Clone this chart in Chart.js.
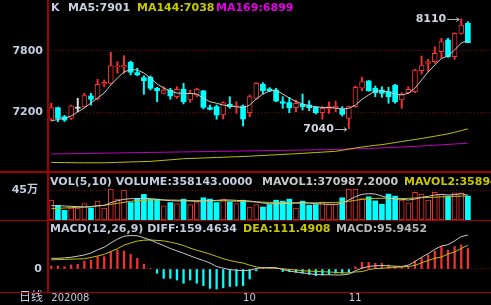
<!DOCTYPE html>
<html><head><meta charset="utf-8">
<script src="https://cdn.jsdelivr.net/npm/chart.js@4/dist/chart.umd.min.js"></script>
<style>
html,body{margin:0;padding:0;background:#000;width:491px;height:305px;overflow:hidden;}
canvas{position:absolute;left:0;display:block;}
.sep{position:absolute;left:0;width:491px;background:#a00000;}
.vsep{position:absolute;left:47px;top:0;width:2px;height:293px;background:#a00000;}
</style></head><body>
<canvas id="ca" width="491" height="171" style="top:0px"></canvas>
<canvas id="cb" width="491" height="47" style="top:173px"></canvas>
<canvas id="cc" width="491" height="83" style="top:222px"></canvas>
<div class="sep" style="top:171px;height:2px"></div>
<div class="sep" style="top:220px;height:1px"></div>
<div class="sep" style="top:292px;height:1px"></div>
<div class="vsep"></div>
<script>
// ---- categories (trading days) ----
const dates = ['20200821','20200824','20200825','20200826','20200827','20200828','20200831',
'20200901','20200902','20200903','20200904','20200907','20200908','20200909','20200910','20200911',
'20200914','20200915','20200916','20200917','20200918','20200921','20200922','20200923','20200924',
'20200925','20200928','20200929','20200930',
'20201009','20201012','20201013','20201014','20201015','20201016','20201019','20201020','20201021',
'20201022','20201023','20201026','20201027','20201028','20201029','20201030',
'20201102','20201103','20201104','20201105','20201106','20201109','20201110','20201111','20201112',
'20201113','20201116','20201117','20201118','20201119','20201120','20201123','20201124','20201125','20201126'];
const blankSlots = ['', '', ''];
// ---- tick labels ----
const xTickDates = ['20200821','20201009','20201102'];
const xTickTexts = ['202008','10','11'];
const priceTicks = [7200, 7800];
const volTicks = [450000];
const volTickTexts = ['45万'];
const macdTicks = [0];
// ---- OHLC ----
const open = [7132,7245,7157,7141,7240,7255,7359,7330,7473,7482,7644,7640,7687,7586,7537,7541,7434,7385,7417,7352,7424,7320,7369,7409,7245,7255,7174,7278,7255,7261,7196,7336,7473,7427,7417,7303,7294,7245,7278,7271,7249,7196,7232,7239,7229,7141,7255,7434,7505,7434,7417,7401,7463,7320,7391,7401,7605,7677,7693,7790,7904,7742,7969,8067];
const high = [7288,7250,7170,7270,7336,7385,7385,7521,7515,7784,7693,7751,7700,7629,7556,7554,7444,7449,7434,7449,7482,7417,7434,7412,7271,7271,7303,7352,7303,7271,7369,7489,7489,7440,7434,7352,7346,7320,7378,7313,7255,7255,7303,7310,7255,7261,7456,7541,7510,7456,7449,7443,7473,7391,7449,7619,7748,7716,7839,7921,7921,7975,8110,8083];
const low = [7115,7108,7110,7130,7206,7249,7271,7320,7449,7476,7580,7580,7563,7556,7375,7417,7303,7378,7327,7336,7281,7297,7352,7232,7222,7132,7135,7239,7190,7067,7157,7327,7378,7400,7303,7239,7196,7206,7222,7216,7183,7132,7190,7206,7164,7040,7249,7410,7405,7352,7346,7288,7288,7239,7385,7391,7573,7596,7677,7726,7735,7716,7960,7878];
const close = [7245,7141,7125,7264,7240,7362,7327,7473,7492,7654,7652,7660,7590,7566,7508,7434,7410,7417,7359,7424,7303,7385,7424,7248,7229,7174,7294,7255,7264,7135,7352,7482,7410,7410,7310,7288,7245,7288,7255,7245,7196,7239,7255,7261,7180,7255,7443,7498,7410,7391,7385,7352,7303,7378,7424,7612,7654,7693,7775,7888,7742,7969,8050,7878];
// ---- moving averages ----
const ma5 = [7118,7130,7142,7164,7203,7242,7291,7339,7388,7466,7534,7593,7617,7612,7583,7534,7476,7437,7407,7388,7383,7383,7378,7336,7303,7288,7271,7261,7255,7242,7271,7330,7378,7407,7417,7378,7339,7305,7281,7264,7255,7247,7247,7242,7232,7239,7271,7327,7369,7407,7410,7398,7378,7369,7385,7434,7515,7593,7661,7724,7748,7807,7875,7901];
const ma144 = [6712,6711,6710,6709,6708,6708,6708,6708,6708,6710,6712,6714,6716,6718,6720,6722,6727,6732,6737,6742,6748,6750,6752,6755,6757,6760,6762,6765,6767,6770,6772,6776,6779,6783,6786,6790,6793,6796,6800,6804,6808,6812,6816,6820,6830,6842,6852,6862,6870,6878,6885,6895,6905,6915,6925,6935,6945,6956,6967,6978,6990,7005,7022,7038];
const ma169 = [6794,6795,6796,6797,6798,6799,6800,6801,6802,6803,6804,6805,6806,6807,6808,6809,6810,6811,6812,6813,6814,6815,6816,6817,6818,6819,6820,6821,6822,6823,6824,6825,6826,6827,6828,6829,6830,6831,6832,6833,6834,6835,6836,6838,6840,6842,6844,6846,6848,6850,6853,6856,6859,6862,6865,6868,6871,6875,6879,6883,6887,6891,6895,6899];
// ---- volume ----
const volume = [297000,221000,145000,180000,180000,247000,180000,282000,180000,465000,313000,450000,262000,323000,384000,313000,313000,211000,262000,247000,313000,232000,262000,333000,313000,262000,313000,272000,247000,297000,195000,232000,195000,232000,297000,282000,313000,180000,282000,221000,232000,272000,232000,232000,333000,465000,465000,323000,348000,287000,236000,389000,358000,297000,256000,415000,389000,297000,415000,389000,358000,409000,409000,358143];
const mavol1 = [215000,215000,210000,205000,200000,195000,200000,215000,220000,260000,290000,310000,320000,320000,325000,320000,310000,300000,290000,285000,290000,285000,280000,285000,290000,295000,300000,300000,295000,290000,285000,270000,255000,245000,240000,245000,250000,255000,260000,255000,245000,240000,235000,235000,250000,300000,350000,385000,395000,390000,360000,330000,315000,310000,300000,315000,340000,355000,375000,385000,375000,380000,395000,370987];
const mavol2 = [170000,175000,180000,185000,190000,195000,200000,210000,220000,235000,250000,265000,280000,290000,295000,300000,300000,300000,300000,298000,295000,292000,290000,288000,288000,288000,288000,285000,280000,278000,275000,272000,268000,265000,262000,260000,258000,255000,255000,255000,258000,260000,262000,265000,270000,280000,295000,310000,320000,325000,325000,325000,322000,322000,325000,330000,335000,338000,342000,348000,350000,355000,358000,358900];
// ---- MACD ----
const diff = [50,50,52,55,60,66,75,90,102,122,140,154,157,156,146,136,122,110,96,85,74,62,50,40,28,12,4,-3,-6,-8,-6,2,6,7,6,-2,-10,-14,-18,-22,-26,-27,-27,-28,-28,-24,-8,4,12,15,16,15,13,12,18,35,55,72,92,108,114,132,152,159.4634];
const dea = [43,44,45,46,47,48,54,61,69,82,95,112,122,131,135,136,134,132,126,119,110,98,88,79,70,59,48,40,33,28,18,10,5,4,3,1,-2,-5,-8,-10,-11,-13,-14,-16,-18,-18,-14,-12,-3,2,3,6,8,9,12,17,29,40,50,56,70,80,96,111.4908];
const macd = [14,14,11,19,22,37,42,58,58,81,89,84,69,50,23,2,-20,-44,-44,-52,-67,-52,-67,-78,-91,-94,-88,-82,-80,-78,-47,-9,6,6,3,-12,-12,-16,-20,-25,-31,-28,-25,-20,-20,-16,11,31,31,27,27,19,11,6,11,37,53,66,84,105,89,105,113,95.9452];

const labels = dates.concat(blankSlots);
const UP = '#f03232', DN = '#00ffff', FLAT = '#e0e0e0';
const TXT = '#c4cce0';
const FONT = '"DejaVu Sans", "Noto Sans CJK SC", sans-serif';
const cColor = i => close[i] > open[i] ? UP : (close[i] < open[i] ? DN : FLAT);

function yAxis(min, max, ticks, fmt, pad) {
  return {
    position: 'left', min: min, max: max,
    afterFit(s) { s.width = 48; s.paddingTop = 0; s.paddingBottom = 0; },
    afterBuildTicks(s) { s.ticks = ticks.map(v => ({ value: v })); },
    ticks: { callback: v => fmt(v), color: TXT, font: { family: FONT, size: 11, weight: 'bold' }, padding: pad, autoSkip: false },
    grid: { color: '#8a0000', drawTicks: false, lineWidth: 1 },
    border: { display: false, dash: [1, 2] }
  };
}
const hiddenX = { type: 'category', display: false, offset: true, grid: { display: false } };

function textPlugin(items, y) {
  return { id: 'legendText', afterDraw(chart) {
    const ctx = chart.ctx; ctx.save();
    ctx.font = 'bold 11px ' + FONT; ctx.textBaseline = 'middle'; ctx.textAlign = 'left';
    for (const it of items) { ctx.fillStyle = it.c; ctx.fillText(it.t, it.x, y); }
    ctx.restore();
  } };
}

const baseOpts = { responsive: false, animation: false, events: [],
  layout: { padding: 0 },
  plugins: { legend: { display: false }, tooltip: { enabled: false } } };

// ---- main price chart ----
const extremes = { id: 'extremes', afterDatasetsDraw(chart) {
  const xs = chart.scales.x, ys = chart.scales.y, ctx = chart.ctx;
  let hi = 0, lo = 0;
  for (let i = 1; i < high.length; i++) { if (high[i] > high[hi]) hi = i; if (low[i] < low[lo]) lo = i; }
  const mark = (i, v) => {
    const px = xs.getPixelForValue(i), py = Math.round(ys.getPixelForValue(v)) + 0.5;
    ctx.save();
    ctx.strokeStyle = '#b8b8c0'; ctx.lineWidth = 1;
    ctx.beginPath(); ctx.moveTo(px - 14, py); ctx.lineTo(px - 2, py);
    ctx.moveTo(px - 5, py - 2); ctx.lineTo(px - 2, py); ctx.lineTo(px - 5, py + 2); ctx.stroke();
    ctx.fillStyle = '#d0d4e0'; ctx.font = 'bold 11px ' + FONT; ctx.textAlign = 'right'; ctx.textBaseline = 'middle';
    ctx.fillText(String(v), px - 15, py);
    ctx.restore();
  };
  mark(hi, high[hi]); mark(lo, low[lo]);
} };

new Chart(document.getElementById('ca'), {
  type: 'bar',
  data: { labels: labels, datasets: [
    { type: 'line', data: ma5, borderColor: '#c8c8c8', borderWidth: 1, pointRadius: 0, order: -3 },
    { type: 'line', data: ma144, borderColor: '#c0c000', borderWidth: 1, pointRadius: 0, order: -2 },
    { type: 'line', data: ma169, borderColor: '#c000c0', borderWidth: 1, pointRadius: 0, order: -1 },
    { data: open.map((o, i) => [o, close[i]]), grouped: false, barThickness: 5, minBarLength: 1,
      backgroundColor: open.map((o, i) => close[i] > o ? '#000000' : cColor(i)),
      borderColor: open.map((o, i) => cColor(i)),
      borderWidth: open.map((o, i) => close[i] > o ? 1 : 0), borderSkipped: false, order: 1 },
    { data: low.map((l, i) => [l, high[i]]), grouped: false, barThickness: 1.3,
      backgroundColor: low.map((l, i) => cColor(i)), borderWidth: 0, order: 2 }
  ] },
  options: Object.assign({}, baseOpts, { scales: {
    x: hiddenX,
    y: yAxis(6628, 8294, priceTicks, v => String(v), 5)
  } }),
  plugins: [extremes, textPlugin([
    { t: 'K', x: 51, c: TXT },
    { t: 'MA5:7901', x: 68, c: '#c8d0e0' },
    { t: 'MA144:7038', x: 137, c: '#c8c800' },
    { t: 'MA169:6899', x: 216, c: '#e000e0' }
  ], 8)]
});

// ---- volume chart ----
new Chart(document.getElementById('cb'), {
  type: 'bar',
  data: { labels: labels, datasets: [
    { type: 'line', data: mavol1, borderColor: '#c8c8c8', borderWidth: 1, pointRadius: 0, order: -2 },
    { type: 'line', data: mavol2, borderColor: '#c0c000', borderWidth: 1, pointRadius: 0, order: -1 },
    { data: volume, barThickness: 5,
      backgroundColor: volume.map((v, i) => close[i] >= open[i] ? '#000000' : DN),
      borderColor: volume.map((v, i) => close[i] >= open[i] ? UP : DN),
      borderWidth: volume.map((v, i) => close[i] >= open[i] ? 1 : 0), borderSkipped: false, order: 1 }
  ] },
  options: Object.assign({}, baseOpts, { scales: {
    x: hiddenX,
    y: yAxis(0, 705000, volTicks, v => volTickTexts[volTicks.indexOf(v)], 10)
  } }),
  plugins: [textPlugin([
    { t: 'VOL(5,10) VOLUME:358143.0000', x: 50, c: '#c4cce0' },
    { t: 'MAVOL1:370987.2000', x: 262, c: '#c8c8c8' },
    { t: 'MAVOL2:358947.1000', x: 404, c: '#c8c800' }
  ], 9)]
});

// ---- MACD chart ----
const dayLabel = { id: 'dayLabel', afterDraw(chart) {
  const ctx = chart.ctx; ctx.save();
  ctx.fillStyle = TXT; ctx.font = '12px ' + FONT; ctx.textAlign = 'right'; ctx.textBaseline = 'middle';
  ctx.fillText('日线', 43, chart.chartArea.bottom + 6);
  ctx.restore();
} };
new Chart(document.getElementById('cc'), {
  type: 'bar',
  data: { labels: labels, datasets: [
    { type: 'line', data: diff, borderColor: '#c8c8c8', borderWidth: 1, pointRadius: 0, order: -2 },
    { type: 'line', data: dea, borderColor: '#c0c000', borderWidth: 1, pointRadius: 0, order: -1 },
    { data: macd, barThickness: 1.6, backgroundColor: macd.map(v => v >= 0 ? UP : DN), borderWidth: 0, order: 1 }
  ] },
  options: Object.assign({}, baseOpts, { scales: {
    x: { type: 'category', display: true, offset: true, position: 'bottom',
      afterFit(s) { s.height = 13; s.paddingLeft = 0; s.paddingRight = 0; },
      grid: { display: false, drawTicks: false }, border: { display: false },
      ticks: { autoSkip: false, maxRotation: 0, minRotation: 0, align: 'start', padding: 0,
        color: TXT, font: { family: FONT, size: 10 },
        callback: (v, i) => { const k = xTickDates.indexOf(labels[i]); return k >= 0 ? xTickTexts[k] : ''; } } },
    y: yAxis(-107.9, 220.4, macdTicks, v => String(v), 6)
  } }),
  plugins: [dayLabel, textPlugin([
    { t: 'MACD(12,26,9) DIFF:159.4634', x: 50, c: '#c4cce0' },
    { t: 'DEA:111.4908', x: 243, c: '#c8c800' },
    { t: 'MACD:95.9452', x: 336, c: '#b8b8b8' }
  ], 7)]
});
</script>
</body></html>
